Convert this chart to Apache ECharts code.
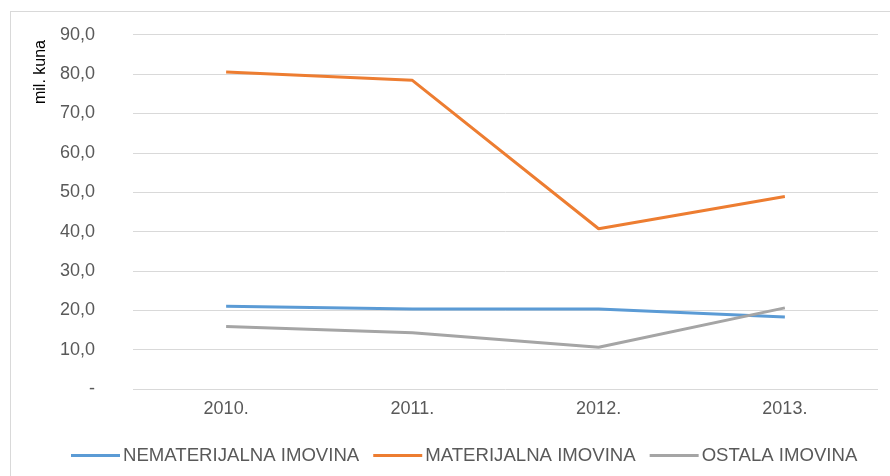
<!DOCTYPE html>
<html>
<head>
<meta charset="utf-8">
<script src="https://cdn.jsdelivr.net/npm/echarts@6/dist/echarts.min.js"></script>
<style>
    html, body { margin: 0; padding: 0; background: #fff; }
    #frame { position: absolute; left: 10px; top: 11px; width: 900px; height: 480px;
             border-left: 1px solid #d9d9d9; border-top: 1px solid #d9d9d9; }
    #chart { position: absolute; left: 0; top: 0; width: 890px; height: 476px; }
</style>
</head>
<body>
<div id="frame"></div>
<div id="chart"></div>
<script>
// 年份
let years = ['2010.', '2011.', '2012.', '2013.'];
// 数据 (mil. kuna)
let nematerijalna = [21.0, 20.3, 20.3, 18.3];
let materijalna = [80.5, 78.4, 40.7, 48.9];
let ostala = [15.9, 14.3, 10.6, 20.6];
let seriesNames = ['NEMATERIJALNA IMOVINA', 'MATERIJALNA IMOVINA', 'OSTALA IMOVINA'];
let colors = ['#5b9bd5', '#ed7d31', '#a5a5a5'];

let font = 'Liberation Sans, Arial, sans-serif';
let myChart = echarts.init(document.getElementById('chart'));

function line(name, data, color) {
    return {
        name: name,
        type: 'line',
        data: data,
        symbol: 'none',
        lineStyle: { color: color, width: 3 },
        itemStyle: { color: color }
    };
}

myChart.setOption({
    animation: false,
    grid: { left: 133, right: 12, top: 34.7, bottom: 87, outerBoundsMode: 'none' },
    // 纵轴名称
    graphic: [{
        type: 'text',
        x: 41,
        y: 72,
        rotation: Math.PI / 2,
        style: {
            text: 'mil. kuna',
            x: 0,
            y: 0,
            align: 'center',
            verticalAlign: 'middle',
            fill: '#000',
            font: '16px ' + font
        }
    }],
    legend: {
        left: 66,
        top: 441,
        icon: 'rect',
        itemWidth: 49,
        itemHeight: 3,
        itemGap: 14,
        textStyle: { color: '#595959', fontSize: 18.6, fontFamily: font, padding: [0, 0, 0, -2] },
        data: seriesNames
    },
    xAxis: {
        type: 'category',
        data: years,
        axisLine: { show: false },
        axisTick: { show: false },
        axisLabel: { color: '#595959', fontSize: 18, fontFamily: font, margin: 11 }
    },
    yAxis: {
        type: 'value',
        min: 0,
        max: 90,
        interval: 10,
        axisLine: { show: false },
        axisTick: { show: false },
        splitLine: { lineStyle: { color: '#d9d9d9', width: 1 } },
        axisLabel: {
            color: '#595959', fontSize: 18, fontFamily: font, margin: 38,
            formatter: v => v === 0 ? '-' : v.toFixed(1).replace('.', ',')
        }
    },
    series: [
        line(seriesNames[0], nematerijalna, colors[0]),
        line(seriesNames[1], materijalna, colors[1]),
        line(seriesNames[2], ostala, colors[2])
    ]
});
</script>
</body>
</html>
